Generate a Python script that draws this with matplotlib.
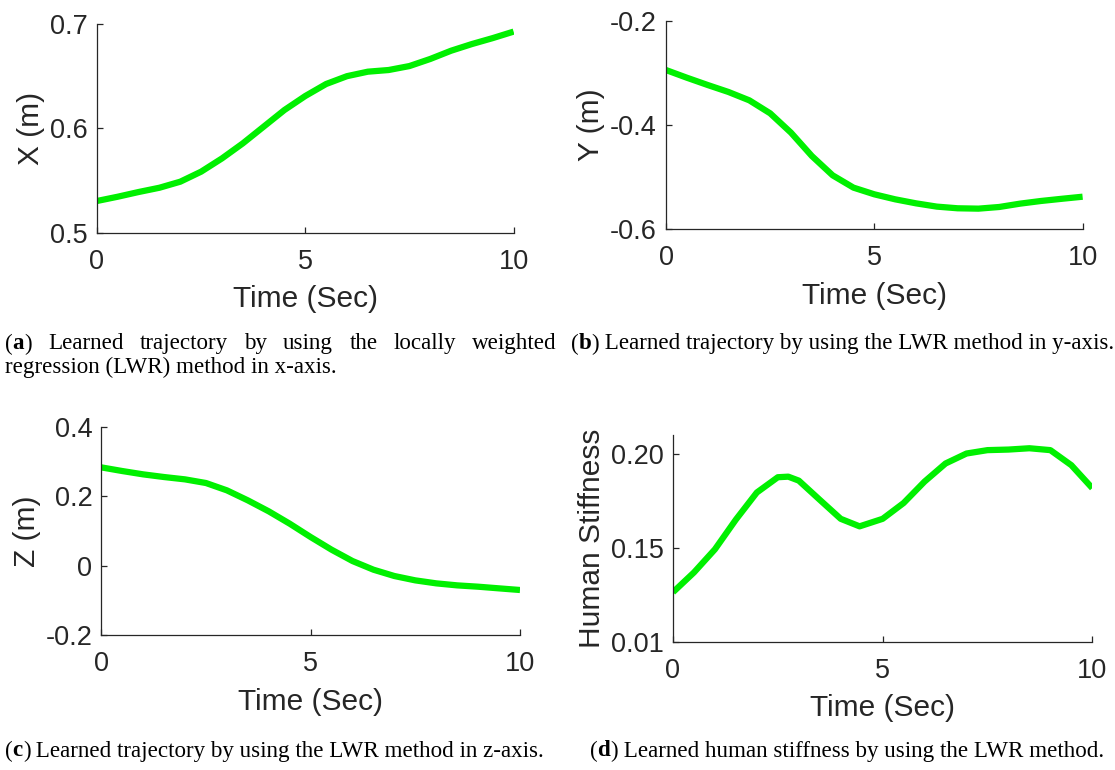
import matplotlib
matplotlib.use("Agg")
import matplotlib.pyplot as plt

plt.rcParams['mathtext.fontset'] = 'custom'
plt.rcParams['mathtext.rm'] = 'Liberation Serif'
plt.rcParams['mathtext.bf'] = 'Liberation Serif:bold'

# ---------------- data ----------------
t = [0, 0.5, 1, 1.5, 2, 2.5, 3, 3.5, 4, 4.5, 5, 5.5, 6, 6.5, 7, 7.5, 8, 8.5, 9, 9.5, 10]
x_pos = [0.5304, 0.5345, 0.5390, 0.5431, 0.5489, 0.5585, 0.5712, 0.5856, 0.6016, 0.6176,
         0.6310, 0.6425, 0.6500, 0.6543, 0.6559, 0.6597, 0.6665, 0.6744, 0.6808, 0.6865, 0.6927]
y_pos = [-0.2946, -0.3093, -0.3233, -0.3367, -0.3527, -0.3776, -0.4147, -0.4594, -0.4965, -0.5201,
         -0.5329, -0.5425, -0.5502, -0.5565, -0.5597, -0.5604, -0.5572, -0.5508, -0.5457, -0.5415, -0.5375]
z_pos = [0.283, 0.2725, 0.2629, 0.2552, 0.2485, 0.238, 0.2169, 0.1881, 0.1565, 0.121,
         0.0826, 0.0462, 0.0136, -0.0113, -0.0295, -0.042, -0.0506, -0.0564, -0.0602, -0.065, -0.0697]
t_stiff = [0, 0.5, 1, 1.5, 2, 2.5, 2.75, 3, 3.5, 4, 4.45, 5, 5.5, 6, 6.5, 7, 7.5, 8, 8.5, 9, 9.5, 10]
stiff = [0.1263, 0.1368, 0.1491, 0.1649, 0.1793, 0.1874, 0.1877, 0.1856, 0.1754, 0.1653, 0.1613,
         0.1653, 0.1737, 0.1851, 0.1947, 0.2000, 0.2018, 0.2021, 0.2028, 0.2018, 0.1938, 0.1816]

x_ticks = [0, 5, 10]
panels = [
    dict(x=t, y=x_pos, ylabel='X (m)', ylim=(0.5, 0.7), yticks=[0.5, 0.6, 0.7],
         yticklabels=['0.5', '0.6', '0.7']),
    dict(x=t, y=y_pos, ylabel='Y (m)', ylim=(-0.6, -0.2), yticks=[-0.6, -0.4, -0.2],
         yticklabels=['-0.6', '-0.4', '-0.2']),
    dict(x=t, y=z_pos, ylabel='Z (m)', ylim=(-0.2, 0.4), yticks=[-0.2, 0, 0.2, 0.4],
         yticklabels=['-0.2', '0', '0.2', '0.4']),
    dict(x=t_stiff, y=stiff, ylabel='Human Stiffness', ylim=(0.10, 0.21), yticks=[0.10, 0.15, 0.20],
         yticklabels=['0.01', '0.15', '0.20']),
]
xlabel = 'Time (Sec)'

captions = [
    ('a', 'Learned trajectory by using the locally weighted', 'regression (LWR) method in x-axis.'),
    ('b', 'Learned trajectory by using the LWR method in y-axis.', None),
    ('c', 'Learned trajectory by using the LWR method in z-axis.', None),
    ('d', 'Learned human stiffness by using the LWR method.', None),
]

# ---------------- layout ----------------
W, H = 1115, 770
fig = plt.figure(figsize=(W / 100, H / 100), dpi=100)

def px(l, r, top, bot):
    return [l / W, 1 - bot / H, (r - l) / W, (bot - top) / H]

rects = [px(97, 513.6, 24, 232.7), px(666, 1082.6, 20.7, 229.3),
         px(101.3, 520, 426.7, 635.3), px(673, 1092.3, 434.7, 641.7)]

axcol = '#262626'
green = '#00f000'
sans = 'Liberation Sans'
tfs = 19.5
lfs = 21.5

for rect, p in zip(rects, panels):
    ax = fig.add_axes(rect)
    ax.plot(p['x'], p['y'], color=green, lw=4.5, solid_capstyle='butt',
            solid_joinstyle='round')
    ax.set_xlim(0, 10)
    ax.set_ylim(*p['ylim'])
    ax.set_xticks(x_ticks)
    ax.set_xticklabels([str(v) for v in x_ticks], fontfamily=sans, fontsize=tfs)
    ax.set_yticks(p['yticks'])
    ax.set_yticklabels(p['yticklabels'], fontfamily=sans, fontsize=tfs)
    for s in ['top', 'right']:
        ax.spines[s].set_visible(False)
    for s in ['left', 'bottom']:
        ax.spines[s].set_color(axcol)
        ax.spines[s].set_linewidth(0.9)
    ax.tick_params(direction='in', length=4, width=0.9, color=axcol,
                   labelcolor=axcol)
    ax.tick_params(axis='x', pad=11.5)
    ax.tick_params(axis='y', pad=6.5)
    ax.set_xlabel(xlabel, fontfamily=sans, fontsize=lfs, color=axcol, labelpad=7.5)
    ax.set_ylabel(p['ylabel'], fontfamily=sans, fontsize=lfs, color=axcol, labelpad=3.5)

# ---------------- captions ----------------
serif = 'Liberation Serif'
fig.canvas.draw()
renderer = fig.canvas.get_renderer()

def measure(s, size, weight='normal'):
    tx = fig.text(0, 0, s, fontfamily=serif, fontsize=size, fontweight=weight)
    w = tx.get_window_extent(renderer=renderer).width
    tx.remove()
    return w

# font size chosen so caption (c) spans the reference width (5 -> 546 px)
base = 14.0
wc = (measure('(', base) + measure('c', base, 'bold') + measure(')', base)
      + measure(' ' + captions[2][1], base))
cfs = base * 541 / wc

def put(xp, yp, s, **kw):
    return fig.text(xp / W, 1 - yp / H, s, fontfamily=serif, fontsize=cfs,
                    va='center', ha='left', color='black', **kw)

def prefix_width(letter):
    return measure('(', cfs) + measure(letter, cfs, 'bold') + measure(')', cfs)

def caption_line(x0, y0, letter, text, justify_to=None, right=None):
    if right is not None:
        x0 = right - prefix_width(letter) - measure(' ' + text, cfs)
    put(x0, y0, '(')
    x = x0 + measure('(', cfs)
    put(x, y0, letter, fontweight='bold')
    x += measure(letter, cfs, 'bold')
    put(x, y0, ')')
    x += measure(')', cfs)
    if justify_to is None:
        put(x, y0, ' ' + text)
        return
    words = text.split(' ')
    ws = [measure(w, cfs) for w in words]
    gap = (justify_to - x - sum(ws)) / len(words)
    cur = x + gap
    for w, wd in zip(words, ws):
        put(cur, y0, w)
        cur += wd + gap

caption_line(5, 344, 'a', captions[0][1], justify_to=557)
put(5, 367, captions[0][2])
caption_line(571, 344, 'b', captions[1][1])
caption_line(5, 751, 'c', captions[2][1])
caption_line(0, 751, 'd', captions[3][1], right=1104)

fig.savefig('out.png', dpi=100)
